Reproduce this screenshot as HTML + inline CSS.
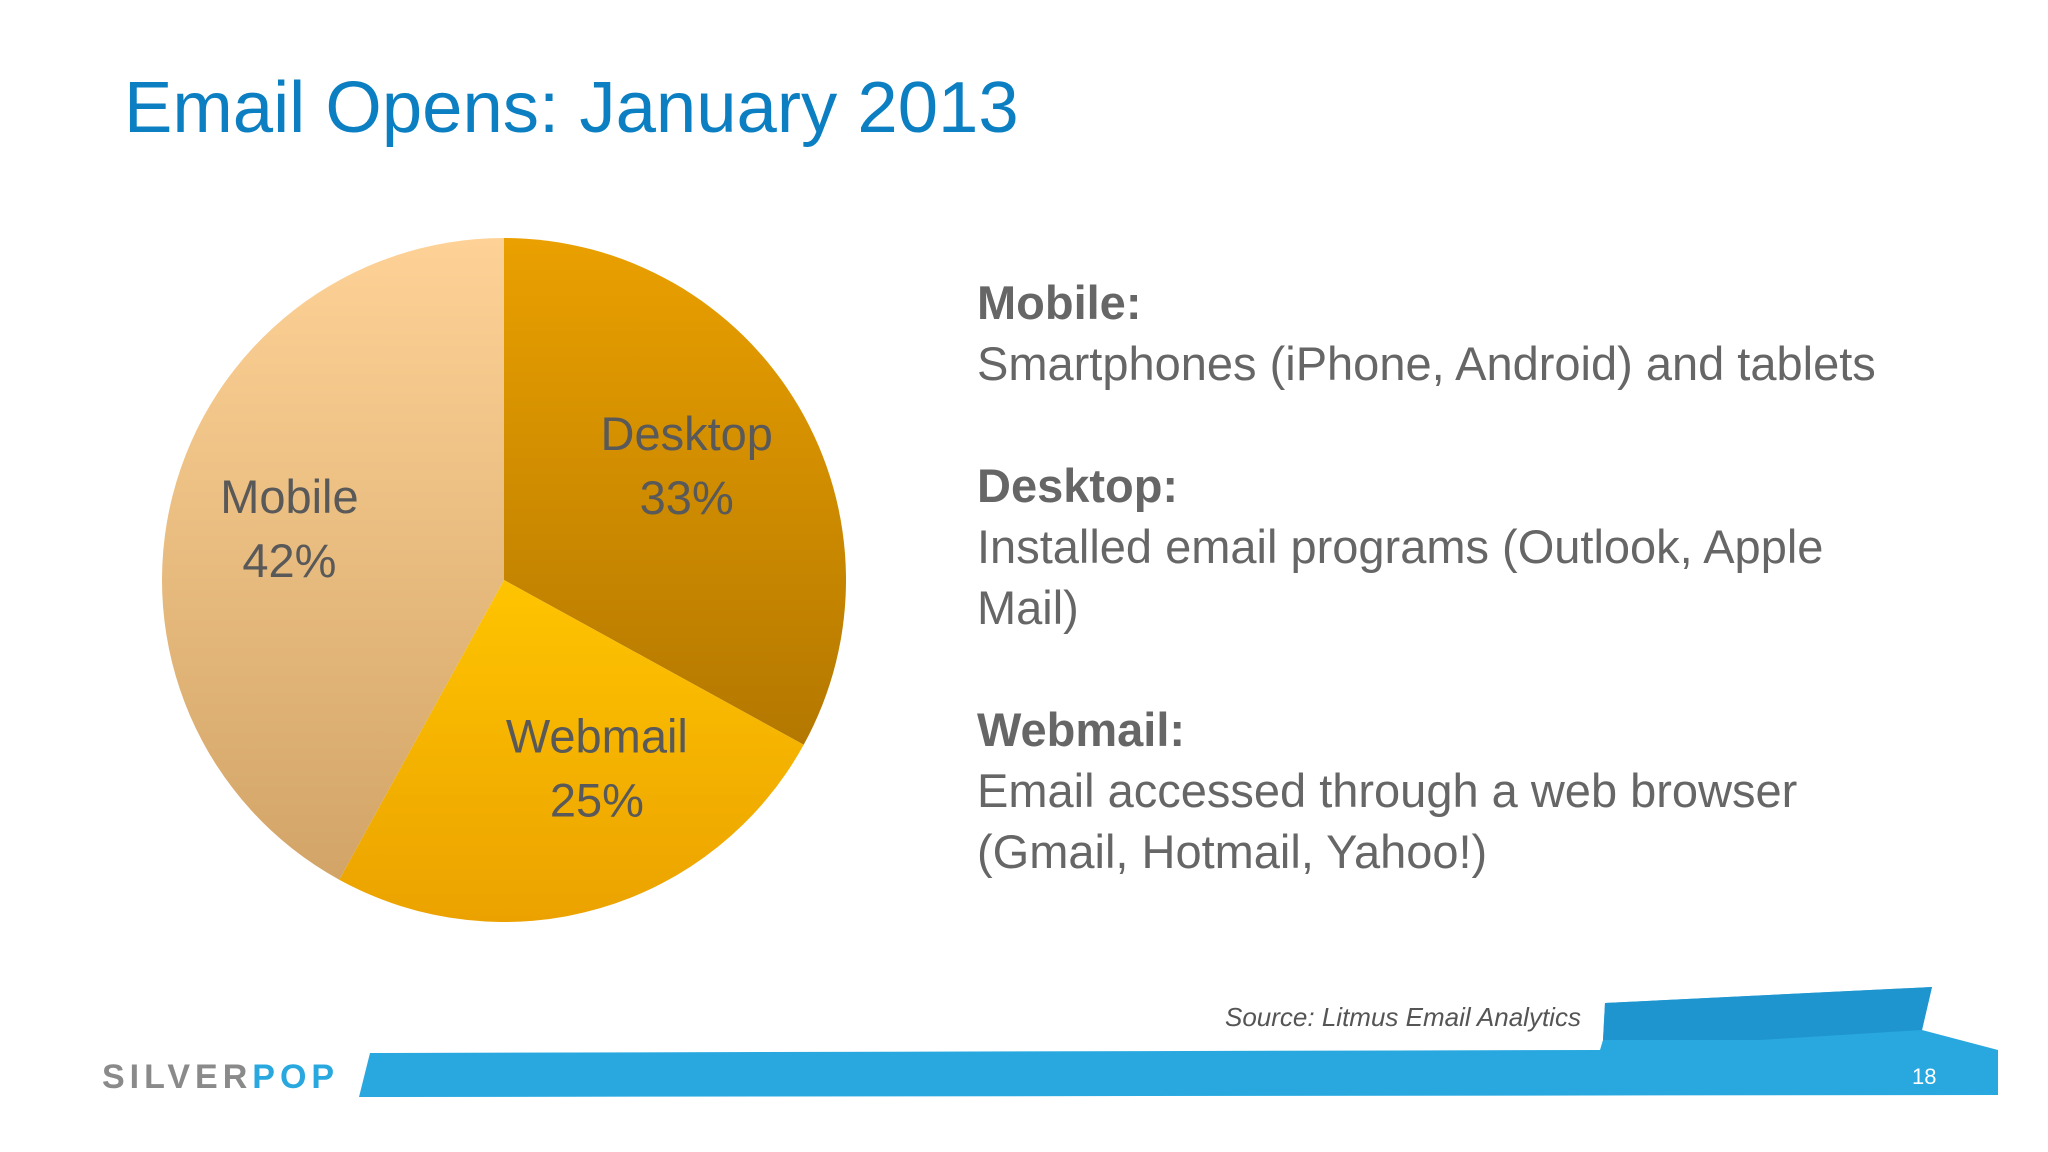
<!DOCTYPE html>
<html><head><meta charset="utf-8"><style>
body{margin:0;width:2048px;height:1152px;overflow:hidden;background:#fff;font-family:"Liberation Sans",sans-serif}
svg{position:absolute;left:0;top:0}
.t{position:absolute;color:#666;font-size:47px;line-height:61px;left:977px;top:272px}
</style></head><body>
<svg width="2048" height="1152">
<defs>
<linearGradient id="gD" x1="0" y1="0" x2="0" y2="1"><stop offset="0" stop-color="#eaa000"/><stop offset="1" stop-color="#b47800"/></linearGradient>
<linearGradient id="gW" x1="0" y1="0" x2="0" y2="1"><stop offset="0" stop-color="#ffc400"/><stop offset="1" stop-color="#eba200"/></linearGradient>
<linearGradient id="gM" x1="0" y1="0" x2="0" y2="1"><stop offset="0" stop-color="#fed296"/><stop offset="1" stop-color="#d2a468"/></linearGradient>
</defs>
<text x="124" y="132" font-size="72.5" fill="#0b7fc1" font-family="Liberation Sans">Email Opens: January 2013</text>
<g id="pie"></g>
<polygon points="1605,1003 1932,987 1922,1030 1998,1050 1998,1095 359,1097 370,1053 1600,1050 1603,1040" fill="#29a8e0"/>
<polygon points="1605,1003 1932,987 1922,1030 1760,1040 1603,1040" fill="#1f95d0"/>
<text x="1912" y="1084" font-size="22" fill="#fff">18</text>
<text x="102" y="1088" font-size="34" font-weight="bold" letter-spacing="5" fill="#8a8a8a">SILVER<tspan fill="#29a8e0">POP</tspan></text>
<text x="1225" y="1026" font-size="26" font-style="italic" fill="#555">Source: Litmus Email Analytics</text>
</svg>
<div class="t">
<b>Mobile:</b><br>Smartphones (iPhone, Android) and tablets<br><br>
<b>Desktop:</b><br>Installed email programs (Outlook, Apple<br>Mail)<br><br>
<b>Webmail:</b><br>Email accessed through a web browser<br>(Gmail, Hotmail, Yahoo!)
</div>
<script>
const categories=["Desktop","Webmail","Mobile"];
const values=[33,25,42];
const fills=["url(#gD)","url(#gW)","url(#gM)"];
const cx=504,cy=580,r=342;
const g=document.getElementById('pie');
const ns='http://www.w3.org/2000/svg';
const total=values.reduce((a,b)=>a+b,0);
let a0=0;
const labelRadiusFrac=[0.63,0.615,0.645];
const labelAngleAdj=[-1.4,-10,-1];
values.forEach((v,i)=>{
 const a1=a0+v/total*2*Math.PI;
 const p=(a)=>[cx+r*Math.sin(a),cy-r*Math.cos(a)];
 const [x0,y0]=p(a0),[x1,y1]=p(a1);
 const path=document.createElementNS(ns,'path');
 path.setAttribute('d',`M${cx},${cy}L${x0},${y0}A${r},${r} 0 ${a1-a0>Math.PI?1:0} 1 ${x1},${y1}Z`);
 path.setAttribute('fill',fills[i]);
 
 
 g.appendChild(path);
 const am=(a0+a1)/2+labelAngleAdj[i]*Math.PI/180, lr=r*labelRadiusFrac[i];
 const lx=cx+lr*Math.sin(am), ly=cy-lr*Math.cos(am);
 const t=document.createElementNS(ns,'text');
 t.setAttribute('x',lx);t.setAttribute('y',ly-16);
 t.setAttribute('text-anchor','middle');t.setAttribute('font-size','47');t.setAttribute('fill','#595959');
 
 
 t.innerHTML=`<tspan x="${lx}">${categories[i]}</tspan><tspan x="${lx}" dy="64">${v}%</tspan>`;
 g.appendChild(t);
 a0=a1;
});
</script>
</body></html>
